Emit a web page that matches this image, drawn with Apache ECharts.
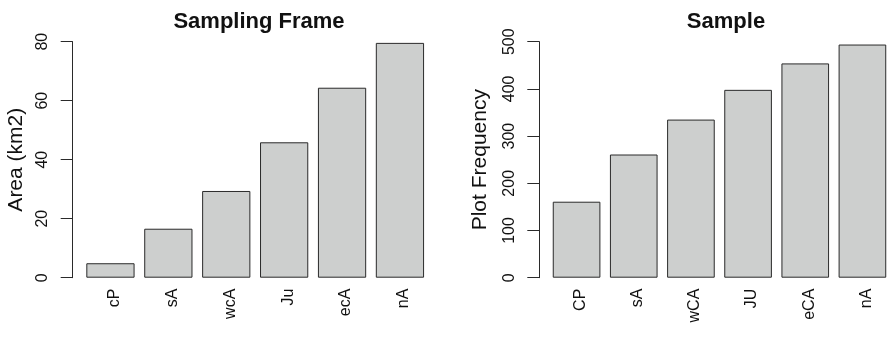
<!DOCTYPE html>
<html>
<head>
<meta charset="utf-8">
<script src="https://cdn.jsdelivr.net/npm/echarts@6/dist/echarts.min.js"></script>
<style>
html,body{margin:0;padding:0;background:#fff;}
#chart{width:891px;height:337px;}
</style>
</head>
<body>
<div id="chart"></div>
<script>
// Data
const frameCategories = ['cP', 'sA', 'wcA', 'Ju', 'ecA', 'nA'];
const frameArea = [4.9, 16.6, 29.4, 45.9, 64.4, 79.6];
const sampleCategories = ['CP', 'sA', 'wCA', 'JU', 'eCA', 'nA'];
const sampleFreq = [161, 261, 335, 398, 454, 494];
const frameTitle = 'Sampling Frame';
const sampleTitle = 'Sample';
const frameYName = 'Area (km2)';
const sampleYName = 'Plot Frequency';

const FONT = '"Liberation Sans", Arial, Helvetica, sans-serif';
const barColor = '#cdcfce';
const lineColor = '#2a2a2a';

const chart = echarts.init(document.getElementById('chart'), null, {renderer: 'canvas'});

function yAxisCfg(gridIndex, name, max, interval, offset, nameGap) {
  return {
    type: 'value', gridIndex: gridIndex, min: 0, max: max, interval: interval,
    offset: offset,
    name: name, nameLocation: 'middle', nameGap: nameGap,
    nameTextStyle: {fontFamily: FONT, fontSize: 21, color: '#111'},
    axisLine: {show: true, lineStyle: {color: lineColor, width: 1}},
    axisTick: {show: true, length: 12, lineStyle: {color: lineColor, width: 1}},
    axisLabel: {rotate: 90, margin: 22, fontFamily: FONT, fontSize: 16, color: '#111'},
    splitLine: {show: false}
  };
}
function xAxisCfg(gridIndex, cats) {
  return {
    type: 'category', gridIndex: gridIndex, data: cats, boundaryGap: true,
    axisLine: {show: false}, axisTick: {show: false},
    axisLabel: {rotate: 90, margin: 11, fontFamily: FONT, fontSize: 16, color: '#111',
      verticalAlign: 'top', lineHeight: 8}
  };
}

chart.setOption({
  animation: false,
  backgroundColor: '#fff',
  title: [
    {text: frameTitle, left: 254, top: 6, textAlign: 'center',
     textStyle: {fontFamily: FONT, fontSize: 22, fontWeight: 'bold', color: '#111'}},
    {text: sampleTitle, left: 721, top: 6, textAlign: 'center',
     textStyle: {fontFamily: FONT, fontSize: 22, fontWeight: 'bold', color: '#111'}}
  ],
  grid: [
    {left: 81.5, top: 41.7, width: 347.4, height: 236},
    {left: 548, top: 41.7, width: 346.8, height: 236}
  ],
  xAxis: [xAxisCfg(0, frameCategories), xAxisCfg(1, sampleCategories)],
  yAxis: [yAxisCfg(0, frameYName, 80, 20, 8.8, 46), yAxisCfg(1, sampleYName, 500, 100, 8.7, 49)],
  series: [
    {type: 'bar', xAxisIndex: 0, yAxisIndex: 0, data: frameArea, barWidth: '83.33%',
     itemStyle: {color: barColor, borderColor: lineColor, borderWidth: 1}},
    {type: 'bar', xAxisIndex: 1, yAxisIndex: 1, data: sampleFreq, barWidth: '83.33%',
     itemStyle: {color: barColor, borderColor: lineColor, borderWidth: 1}}
  ]
});
</script>
</body>
</html>
